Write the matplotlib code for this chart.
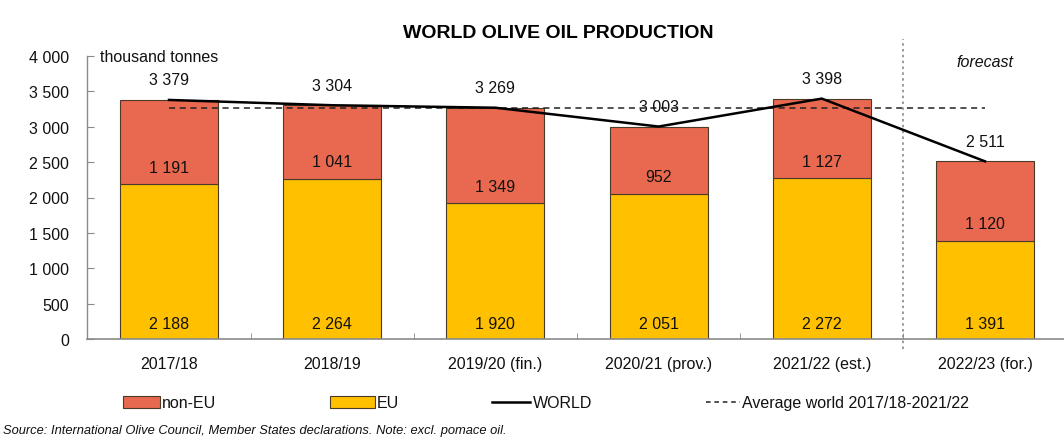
import matplotlib
matplotlib.use("Agg")
import matplotlib.pyplot as plt
from matplotlib.patches import Patch
from matplotlib.lines import Line2D
import numpy as np

categories = ['2017/18', '2018/19', '2019/20 (fin.)', '2020/21 (prov.)', '2021/22 (est.)', '2022/23 (for.)']
eu = [2188, 2264, 1920, 2051, 2272, 1391]
non_eu = [1191, 1041, 1349, 952, 1127, 1120]
world = [3379, 3304, 3269, 3003, 3398, 2511]
avg_world = 3271
yticks = [0, 500, 1000, 1500, 2000, 2500, 3000, 3500, 4000]

C_NONEU = '#E8694F'
C_EU = '#FFC000'
EDGE = '#4a3a28'
GRAY = '#8a8a8a'

FONT = ['Liberation Sans', 'DejaVu Sans']
plt.rcParams['font.family'] = FONT

def fmt(v):
    return f"{v:,}".replace(',', ' ')

fig = plt.figure(figsize=(10.64, 4.39), dpi=100)
ax = fig.add_axes([87.4 / 1064, 99 / 439, 979.2 / 1064, 283 / 439])

x = np.arange(len(categories))
w = 0.6
ax.bar(x, eu, w, color=C_EU, edgecolor=EDGE, linewidth=0.8, zorder=2)
ax.bar(x, non_eu, w, bottom=eu, color=C_NONEU, edgecolor=EDGE, linewidth=0.8, zorder=2)

ax.plot(x, world, color='black', lw=1.8, zorder=4)
ax.plot([x[0], x[-1]], [avg_world, avg_world], color='#222222', lw=1.1,
        ls=(0, (4, 3)), zorder=3)

ax.set_xlim(-0.5, len(categories) - 0.5)
ax.set_ylim(0, 4000)

# labels
fs = 11.5
for i in range(len(categories)):
    ax.annotate(fmt(world[i]), (x[i], world[i]), xytext=(0, 14.5), textcoords='offset points',
                ha='center', va='center', fontsize=fs, color='#111111', zorder=5)
    ax.annotate(fmt(non_eu[i]), (x[i], eu[i]), xytext=(0, 12.3), textcoords='offset points',
                ha='center', va='center', fontsize=fs, color='#111111', zorder=5)
    ax.annotate(fmt(eu[i]), (x[i], 0), xytext=(0, 11.5), textcoords='offset points',
                ha='center', va='center', fontsize=fs, color='#111111', zorder=5)

# forecast separator
ax.plot([4.5, 4.5], [-140, 4240], color=GRAY, lw=1.2, ls=(0, (1.5, 2)), clip_on=False, zorder=3)
ax.text(x[-1], 3920, 'forecast', ha='center', va='center', fontsize=fs,
        style='italic', color='#111111')

# axes styling
for s in ['top', 'right']:
    ax.spines[s].set_visible(False)
ax.spines['left'].set_color(GRAY)
ax.spines['bottom'].set_color(GRAY)
ax.spines['left'].set_linewidth(1.0)
ax.spines['bottom'].set_linewidth(1.2)

ax.set_yticks(yticks)
ax.set_yticklabels([fmt(v) for v in yticks], fontsize=fs, color='#111111')
ax.tick_params(axis='y', direction='in', length=5, color=GRAY, pad=13)

ax.set_xticks(x)
ax.set_xticklabels(categories, fontsize=fs, color='#111111')
ax.tick_params(axis='x', which='major', length=0, pad=12)
ax.set_xticks(x[:-1] + 0.5, minor=True)
ax.tick_params(axis='x', which='minor', direction='in', length=4, color=GRAY)

fig.text(100 / 1064, 1 - 58 / 439, 'thousand tonnes', ha='left', va='center',
         fontsize=fs, color='#111111')

fig.text(558 / 1064, 1 - 33 / 439, 'WORLD OLIVE OIL PRODUCTION', ha='center', va='center',
         fontsize=14, fontweight='bold', color='black')

# legends
ly = 1 - 404 / 439
entries = [
    (Patch(facecolor=C_NONEU, edgecolor=EDGE, linewidth=0.8), 'non-EU', 123, 2.3),
    (Patch(facecolor=C_EU, edgecolor=EDGE, linewidth=0.8), 'EU', 330, 2.8),
    (Line2D([], [], color='black', lw=1.8), 'WORLD', 492, 2.4),
    (Line2D([], [], color='#222222', lw=1.1, ls=(0, (3, 2.5))), 'Average world 2017/18-2021/22', 706, 2.1),
]
for h, lab, px, hl in entries:
    leg = fig.legend([h], [lab], loc='center left', bbox_to_anchor=(px / 1064, ly),
                     frameon=False, borderpad=0, borderaxespad=0, handlelength=hl,
                     handleheight=0.75, handletextpad=0.15,
                     prop={'size': fs})
    for t in leg.get_texts():
        t.set_color('#111111')

fig.text(3 / 1064, 1 - 431 / 439,
         'Source: International Olive Council, Member States declarations. Note: excl. pomace oil.',
         ha='left', va='center', fontsize=9.3, style='italic', color='#111111')

fig.savefig('out.png', dpi=100)
